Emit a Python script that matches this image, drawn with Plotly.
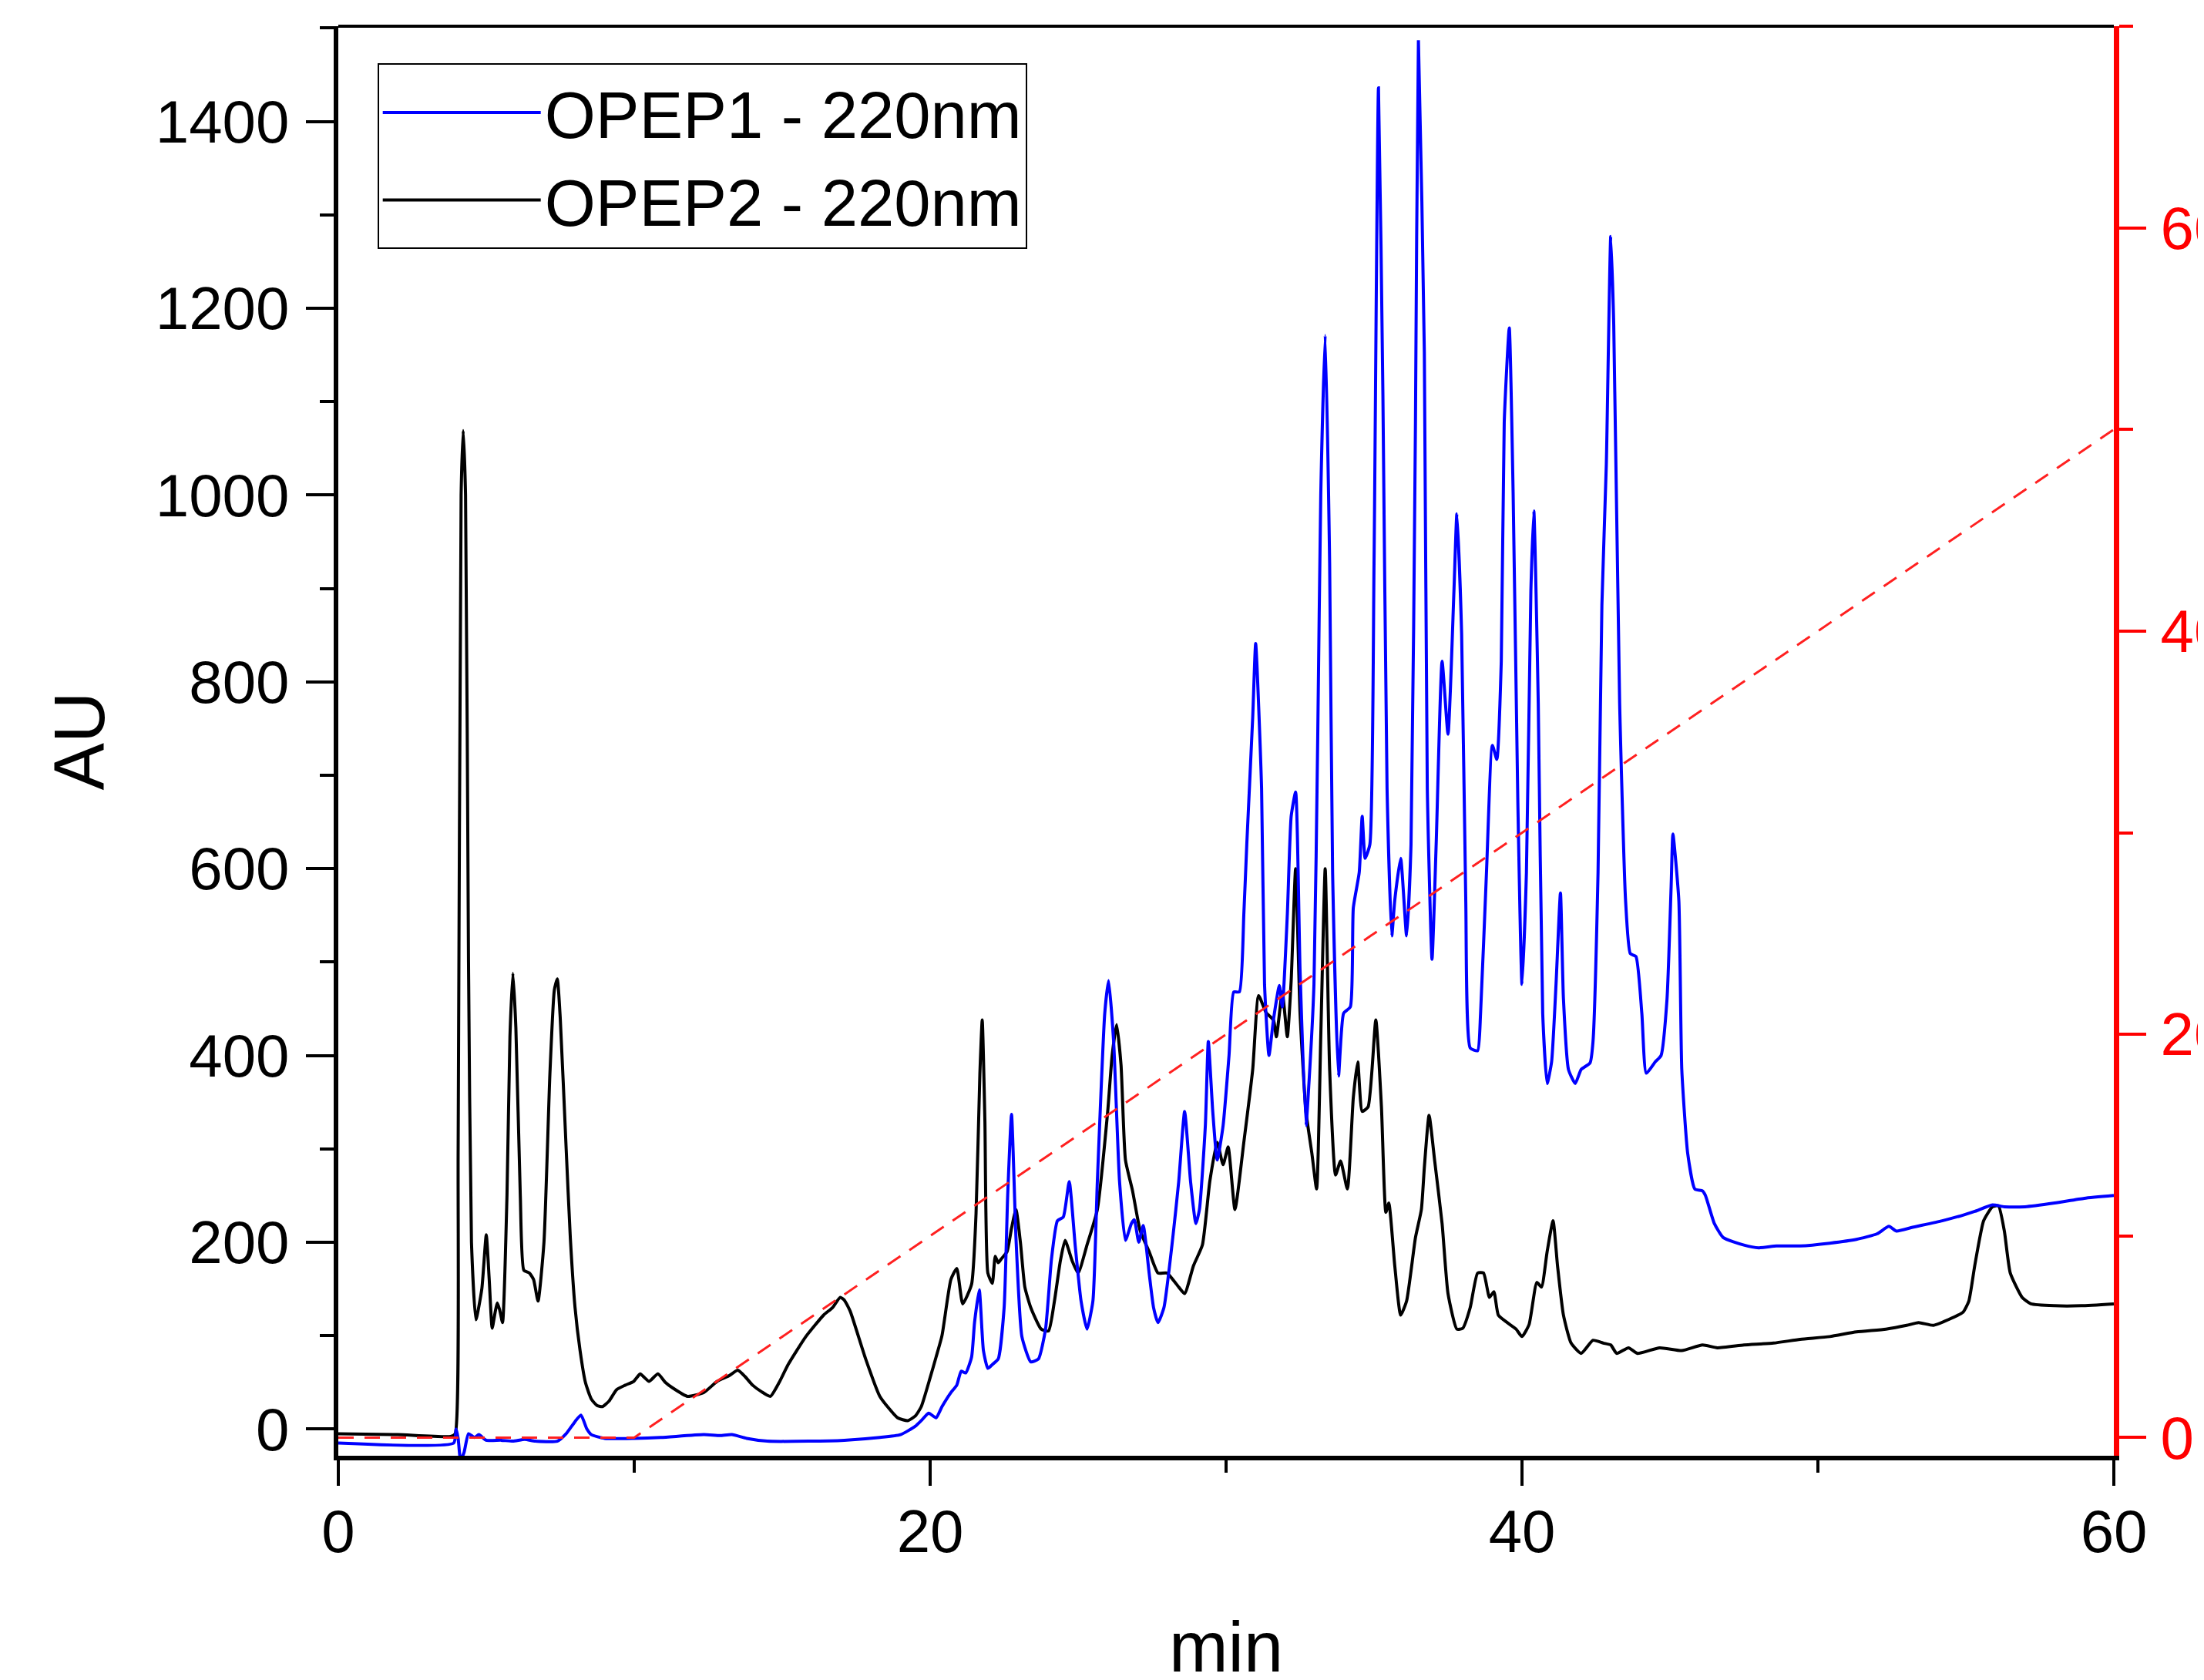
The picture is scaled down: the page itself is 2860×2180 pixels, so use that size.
import plotly.graph_objects as go

# ---------------- data ----------------
# OPEP2 - 220nm (black)
opep2_t = [0, 2, 3.8, 3.95, 4.05, 4.15, 4.22, 4.3, 4.4, 4.5, 4.65, 4.85, 5.0, 5.1, 5.2, 5.3, 5.37, 5.45, 5.55,
           5.7, 5.8, 5.9, 6.0, 6.15, 6.27, 6.46, 6.6, 6.75, 6.95, 7.15, 7.3, 7.4, 7.5, 7.7, 7.84, 8.0, 8.17,
           8.35, 8.55, 8.75, 8.93, 9.15, 9.4, 9.7, 9.98, 10.2, 10.35, 10.5, 10.8, 11.05, 11.3, 11.8, 12.35,
           12.8, 13.2, 13.5, 13.75, 14.0, 14.3, 14.6, 14.9, 15.2, 15.8, 16.4, 16.7, 16.96, 17.1, 17.3, 17.8,
           18.3, 18.9, 19.24, 19.5, 19.7, 20.0, 20.2, 20.4, 20.7, 20.9, 21.1, 21.4, 21.55, 21.68, 21.76, 21.85,
           21.95, 22.1, 22.2, 22.3, 22.4, 22.6, 22.75, 22.9, 23.05, 23.2, 23.4, 23.75, 24.0, 24.2, 24.4, 24.56,
           24.8, 25.0, 25.3, 25.65, 26.0, 26.15, 26.3, 26.45, 26.6, 26.84, 27.1, 27.4, 27.7, 28.0, 28.4, 28.6,
           28.9, 29.2, 29.45, 29.7, 29.9, 30.07, 30.3, 30.6, 30.9, 31.1, 31.35, 31.6, 31.7, 31.9, 32.07, 32.2,
           32.35, 32.5, 32.7, 32.9, 33.06, 33.2, 33.35, 33.5, 33.7, 33.87, 34.1, 34.3, 34.45, 34.6, 34.8, 35.06,
           35.25, 35.4, 35.5, 35.7, 35.9, 36.1, 36.4, 36.6, 36.7, 36.86, 37.05, 37.3, 37.5, 37.8, 38.0, 38.25,
           38.5, 38.7, 38.9, 39.05, 39.2, 39.5, 39.8, 40.0, 40.24, 40.5, 40.66, 40.85, 41.05, 41.2, 41.4, 41.66,
           42.0, 42.4, 42.75, 43.0, 43.2, 43.6, 43.9, 44.65, 45.4, 46.1, 46.6, 47.5, 48.5, 49.4, 50.4, 51.3,
           52.3, 53.0, 53.4, 53.9, 54.4, 54.9, 55.1, 55.3, 55.6, 55.9, 56.1, 56.3, 56.5, 56.9, 57.2, 58.0, 58.9, 60]
opep2_au = [-5, -6, -8, -5, 300, 1000, 1069, 1000, 500, 200, 117, 150, 208, 160, 108, 125, 135, 128, 114,
            250, 420, 488, 430, 250, 170, 167, 160, 137, 200, 380, 470, 482, 440, 300, 205, 130, 84,
            50, 32, 25, 24, 30, 42, 47, 51, 59, 55, 51, 59, 50, 44, 35, 39,
            51, 57, 63, 56, 47, 40, 35, 50, 69, 99, 122, 130, 141, 138, 126, 77,
            35, 12, 9, 14, 24, 55, 77, 100, 160, 172, 134, 155, 230, 380, 438, 330,
            167, 156, 185, 178, 182, 190, 215, 235, 200, 152, 130, 107, 105, 137, 180, 202,
            180, 167, 197, 235, 340, 400, 433, 390, 288, 255, 212, 190, 167, 167, 152, 145,
            175, 197, 265, 307, 283, 302, 235, 307, 385, 464, 446, 438, 420, 468, 420, 480,
            600, 445, 340, 295, 257, 420, 600, 385, 272, 287, 257, 355, 393, 340, 345, 438,
            345, 232, 242, 175, 122, 137, 205, 235, 280, 336, 287, 220, 145, 107, 108, 130,
            167, 167, 141, 147, 122, 114, 107, 99, 112, 157, 152, 190, 223, 175, 122, 92,
            81, 95, 92, 90, 81, 87, 81, 87, 84, 90, 87, 90, 92, 96, 99, 104,
            107, 111, 114, 111, 117, 125, 137, 175, 223, 238, 239, 212, 167, 141, 134, 132, 132, 134]

# OPEP1 - 220nm (blue)
opep1_t = [0, 3.9, 3.98, 4.05, 4.13, 4.25, 4.4, 4.6, 4.75, 5.0, 5.5, 5.9, 6.3, 6.65, 7.4, 7.7, 8.0, 8.2, 8.4,
           8.55, 9.0, 10, 10.9, 12.35, 12.9, 13.3, 13.8, 14.5, 15.9, 17.1, 18.3, 19.0, 19.5, 19.7, 19.95, 20.2,
           20.4, 20.7, 20.9, 21.05, 21.2, 21.4, 21.5, 21.66, 21.8, 21.95, 22.1, 22.3, 22.5, 22.62, 22.75, 22.9,
           23.1, 23.4, 23.66, 23.9, 24.1, 24.3, 24.5, 24.7, 24.9, 25.1, 25.3, 25.5, 25.65, 25.9, 26.03, 26.2,
           26.4, 26.6, 26.8, 26.9, 27.05, 27.2, 27.4, 27.55, 27.7, 27.9, 28.2, 28.4, 28.6, 28.8, 28.98, 29.1,
           29.3, 29.4, 29.55, 29.7, 29.9, 30.1, 30.26, 30.45, 30.6, 30.7, 30.9, 31.0, 31.2, 31.3, 31.45, 31.6,
           31.8, 31.9, 32.07, 32.2, 32.35, 32.5, 32.7, 32.8, 32.97, 33.1, 33.2, 33.35, 33.5, 33.6, 33.8, 33.97,
           34.2, 34.3, 34.5, 34.6, 34.7, 34.86, 35.0, 35.15, 35.3, 35.44, 35.6, 35.7, 35.9, 36.1, 36.25, 36.4,
           36.5, 36.7, 36.8, 36.96, 37.1, 37.3, 37.5, 37.7, 37.8, 37.96, 38.1, 38.25, 38.5, 38.6, 38.8, 39.0,
           39.15, 39.3, 39.4, 39.57, 39.7, 39.86, 40.0, 40.15, 40.3, 40.4, 40.55, 40.7, 40.85, 41.0, 41.15, 41.3,
           41.4, 41.57, 41.8, 42.0, 42.3, 42.4, 42.57, 42.7, 42.85, 43.0, 43.1, 43.3, 43.5, 43.66, 43.85, 44.05,
           44.2, 44.5, 44.7, 44.9, 45.04, 45.1, 45.3, 45.4, 45.6, 45.84, 46.1, 46.2, 46.5, 46.8, 47.5, 48.0,
           48.6, 49.4, 50.4, 51.3, 52.0, 52.4, 52.65, 53.2, 54.2, 54.9, 55.3, 55.9, 56.3, 57.0, 58.0, 59.0, 60]
opep1_au = [-15, -15, 0, -10, -33, -25, -5, -9, -6, -12, -12, -13, -11, -13, -13, -5, 8, 15, 0,
            -6, -10, -10, -9, -6, -7, -6, -10, -13, -13, -12, -9, -6, 3, 9, 17, 12,
            24, 39, 47, 62, 60, 77, 114, 149, 84, 65, 69, 75, 130, 250, 337, 205,
            99, 72, 75, 107, 182, 223, 227, 265, 197, 137, 107, 137, 265, 445, 480, 415,
            265, 202, 220, 224, 200, 218, 167, 130, 114, 130, 205, 265, 340, 265, 220, 235,
            325, 415, 340, 288, 325, 400, 468, 468, 551, 626, 762, 841, 686, 476, 400, 438,
            475, 452, 551, 656, 682, 491, 325, 370, 476, 747, 1000, 1171, 927, 596, 378, 445,
            452, 558, 596, 656, 611, 626, 927, 1436, 1107, 686, 528, 566, 611, 528, 626, 1078,
            1487, 1153, 686, 503, 626, 822, 744, 897, 980, 852, 566, 408, 405, 445, 596, 732,
            717, 822, 1078, 1179, 1003, 671, 476, 596, 897, 983, 777, 445, 370, 393, 476, 574,
            461, 385, 370, 385, 392, 415, 596, 882, 1033, 1277, 1183, 777, 566, 509, 506, 445,
            381, 393, 400, 460, 581, 637, 566, 385, 295, 257, 255, 250, 220, 205, 197, 194,
            196, 196, 199, 203, 209, 217, 212, 216, 223, 229, 233, 240, 238, 238, 242, 247, 250]

# Gradient programme (right axis, %)
grad_t = [0, 10, 60]
grad_pct = [0, 0, 50]

x_ticks = [0, 20, 40, 60]
y_ticks = [0, 200, 400, 600, 800, 1000, 1200, 1400]
y2_ticks = [0, 20, 40, 60]

FONT = "Liberation Sans, Arial, sans-serif"

fig = go.Figure()
fig.add_trace(go.Scatter(x=opep2_t, y=opep2_au, mode="lines", name="OPEP2 - 220nm",
                         line=dict(color="black", width=4, shape="spline", smoothing=0.5), legendrank=2))
fig.add_trace(go.Scatter(x=opep1_t, y=opep1_au, mode="lines", name="OPEP1 - 220nm",
                         line=dict(color="#0000ff", width=4, shape="spline", smoothing=0.5), legendrank=1))
fig.add_trace(go.Scatter(x=grad_t, y=grad_pct, mode="lines", name="gradient", yaxis="y2",
                         showlegend=False, line=dict(color="#ff2020", width=3, dash="20px,14px")))

fig.update_layout(
    width=2860, height=2180,
    margin=dict(l=431, r=125, t=26, b=299, autoexpand=False),
    paper_bgcolor="white", plot_bgcolor="white",
    font=dict(family=FONT, color="black", size=78),
    showlegend=True,
    legend=dict(x=0.022, y=0.974, xanchor="left", yanchor="top",
                bordercolor="black", borderwidth=2, bgcolor="white",
                font=dict(size=85, family=FONT), itemwidth=205,
                tracegroupgap=0),
    xaxis=dict(range=[0, 60], tickmode="array", tickvals=x_ticks, ticks="outside",
               ticklen=33, tickwidth=4, tickcolor="black", showline=True, linecolor="black",
               linewidth=6, showgrid=False, zeroline=False,
               minor=dict(dtick=10, tick0=0, ticks="outside", ticklen=16, tickwidth=4, tickcolor="black"),
               tickfont=dict(size=78), ticklabelstandoff=-8,
               title=dict(text="min", font=dict(size=92), standoff=94)),
    yaxis=dict(range=[-28.6, 1502], tickmode="array", tickvals=y_ticks, ticks="outside",
               ticklen=36, tickwidth=4, tickcolor="black", showline=True, linecolor="black",
               linewidth=6, showgrid=False, zeroline=False,
               minor=dict(dtick=100, tick0=0, ticks="outside", ticklen=18, tickwidth=4, tickcolor="black"),
               tickfont=dict(size=78), ticklabelstandoff=6,
               title=dict(text="AU", font=dict(size=92), standoff=38)),
    yaxis2=dict(range=[-0.9, 70], overlaying="y", side="right", tickmode="array", tickvals=y2_ticks,
                ticks="outside", ticklen=35, tickwidth=4, tickcolor="red", showline=True,
                linecolor="red", linewidth=7, showgrid=False, zeroline=False,
                minor=dict(dtick=10, tick0=0, ticks="outside", ticklen=18, tickwidth=4, tickcolor="red"),
                tickfont=dict(size=78, color="red"), ticklabelstandoff=3),
    shapes=[dict(type="line", xref="paper", yref="paper", x0=0, x1=1, y0=1, y1=1,
                 line=dict(color="black", width=4))],
)

fig.write_html("out.html")
